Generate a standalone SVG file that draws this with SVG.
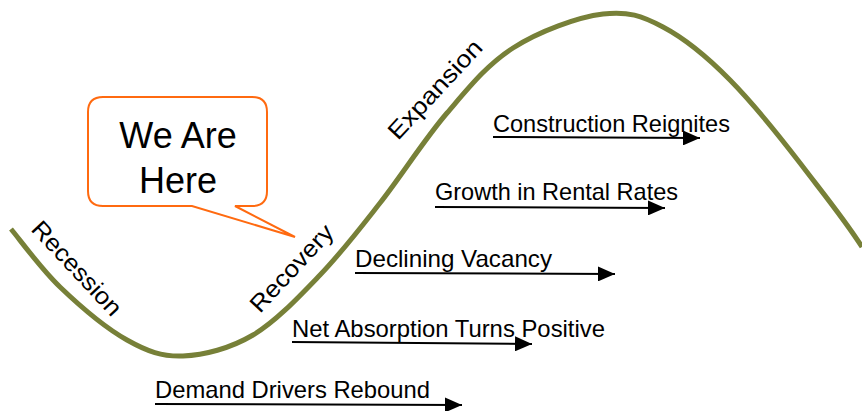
<svg xmlns="http://www.w3.org/2000/svg" width="862" height="411" viewBox="0 0 862 411">
<style>
.lbl{font-family:"Liberation Sans",Arial,sans-serif;font-size:24px;fill:#000}
.rot{font-family:"Liberation Sans",Arial,sans-serif;font-size:24px;fill:#000}
.big{font-family:"Liberation Sans",Arial,sans-serif;font-size:36px;fill:#000;text-anchor:middle}
.arr{stroke:#000;stroke-width:2;fill:none;marker-end:url(#ah)}
.curve{fill:none;stroke:#778038;stroke-width:5;stroke-linejoin:round;stroke-linecap:butt}
</style>
<defs>
<marker id="ah" markerUnits="userSpaceOnUse" markerWidth="17" markerHeight="15" refX="17" refY="7.5" orient="auto">
<path d="M0,0 L17,7.5 L0,15 Z" fill="#000"/>
</marker>
</defs>
<rect width="862" height="411" fill="#fff"/>
<g id="cycle">
<path class="curve" d="M11,229 C19.2,238.7 40.7,268.5 60,287 C79.3,305.5 106.5,328.5 127,340 C147.5,351.5 162,356.8 183,356 C204,355.2 230.2,348.5 253,335 C275.8,321.5 298.8,297 320,275 C341.2,253 358.8,230 380,203 C401.2,176 424.8,138.8 447,113 C469.2,87.2 487,64.7 513,48 C539,31.3 578,17 603,14 C628,11 641.8,15.8 663,27 C684.2,38.2 707.7,57.3 730,80 C752.3,102.7 777,133 800,163 C822,192 845,220 862,247"/>
<text class="rot" transform="translate(30,230) rotate(47)" textLength="120" lengthAdjust="spacingAndGlyphs">Recession</text>
<text class="rot" transform="translate(260,314) rotate(-47)" textLength="110" lengthAdjust="spacingAndGlyphs">Recovery</text>
<text class="rot" transform="translate(398,141) rotate(-47)" textLength="126" lengthAdjust="spacingAndGlyphs">Expansion</text>
</g>
<g id="callout">
<path d="M103,97 H252 Q267,97 267,112 V191 Q267,206 252,206 H235 L295,237 L192,206 H103 Q88,206 88,191 V112 Q88,97 103,97 Z" fill="#fff" stroke="#FF6A10" stroke-width="2"/>
<text class="big" x="178" y="148">We Are</text>
<text class="big" x="178" y="193">Here</text>
</g>
<g id="connectors">
<line class="arr" x1="155" y1="404" x2="462" y2="405"/>
<line class="arr" x1="292" y1="342" x2="532" y2="344"/>
<line class="arr" x1="355" y1="273" x2="615" y2="274"/>
<line class="arr" x1="435" y1="207" x2="665" y2="208"/>
<line class="arr" x1="493" y1="137" x2="700" y2="138"/>
</g>
<g id="demand"><text class="lbl" x="155" y="398" textLength="275" lengthAdjust="spacingAndGlyphs">Demand Drivers Rebound</text></g>
<g id="absorption"><text class="lbl" x="292" y="337" textLength="313" lengthAdjust="spacingAndGlyphs">Net Absorption Turns Positive</text></g>
<g id="vacancy"><text class="lbl" x="355" y="267" textLength="197" lengthAdjust="spacingAndGlyphs">Declining Vacancy</text></g>
<g id="rental"><text class="lbl" x="435" y="200" textLength="243" lengthAdjust="spacingAndGlyphs">Growth in Rental Rates</text></g>
<g id="construction"><text class="lbl" x="493" y="132" textLength="237" lengthAdjust="spacingAndGlyphs">Construction Reignites</text></g>
</svg>
